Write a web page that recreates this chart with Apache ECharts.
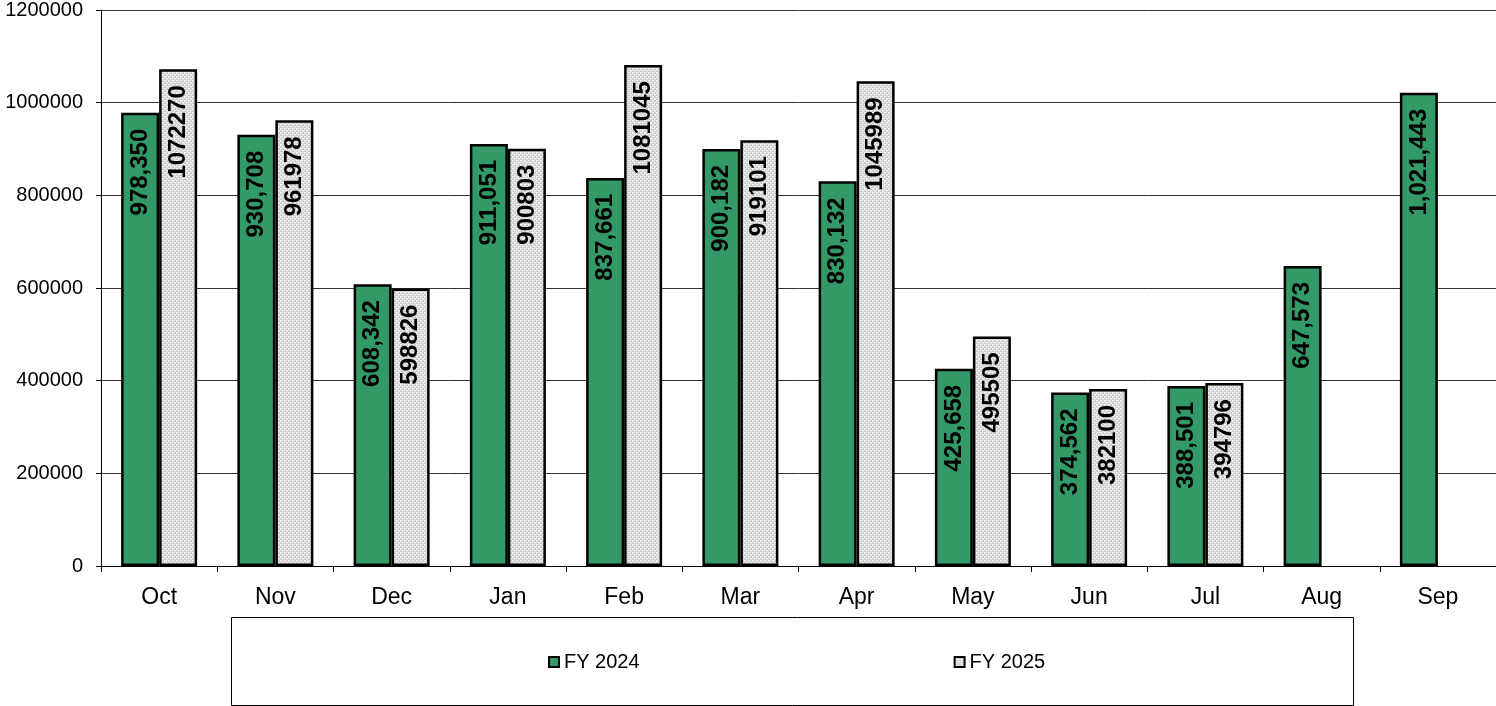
<!DOCTYPE html>
<html>
<head>
<meta charset="utf-8">
<script src="https://cdn.jsdelivr.net/npm/echarts@6/dist/echarts.min.js"></script>
<style>
html,body{margin:0;padding:0;background:#fff;}
#chart{width:1496px;height:706px;}
</style>
</head>
<body>
<div id="chart"></div>
<script>
var categories = ['Oct','Nov','Dec','Jan','Feb','Mar','Apr','May','Jun','Jul','Aug','Sep'];
var fy2024 = [978350, 930708, 608342, 911051, 837661, 900182, 830132, 425658, 374562, 388501, 647573, 1021443];
var fy2025 = [1072270, 961978, 598826, 900803, 1081045, 919101, 1045989, 495505, 382100, 394796, null, null];
var seriesNames = ['FY 2024', 'FY 2025'];
var yTicks = { min: 0, max: 1200000, interval: 200000 };

var FONT = "'Liberation Sans', Arial, sans-serif";

function makePattern() {
  var c = document.createElement('canvas');
  c.width = 4; c.height = 4;
  var ctx = c.getContext('2d');
  ctx.fillStyle = '#d6d6d6';
  ctx.fillRect(0, 0, 4, 4);
  ctx.fillStyle = '#f4f4f4';
  ctx.fillRect(0, 0, 2, 1);
  ctx.fillRect(2, 2, 2, 1);
  ctx.fillStyle = '#e8e8e8';
  ctx.fillRect(0, 1, 1, 1);
  ctx.fillRect(2, 3, 1, 1);
  ctx.fillStyle = '#bdbdbd';
  ctx.fillRect(3, 1, 1, 1);
  ctx.fillRect(1, 3, 1, 1);
  return c;
}

var labelBase = {
  show: true,
  position: 'insideTop',
  rotate: 90,
  align: 'right',
  verticalAlign: 'middle',
  distance: 16,
  fontFamily: FONT,
  fontWeight: 'bold',
  fontSize: 24,
  color: '#000'
};

var chart = echarts.init(document.getElementById('chart'), null, { renderer: 'canvas' });
chart.setOption({
  animation: false,
  backgroundColor: '#fff',
  grid: { left: 101, right: 0, top: 10, bottom: 140, containLabel: false, outerBoundsMode: 'none' },
  legend: {
    data: seriesNames,
    left: 543,
    top: 647,
    itemGap: 314,
    itemWidth: 10,
    itemHeight: 10,
    icon: 'rect',
    itemStyle: { borderColor: '#000', borderWidth: 2 },
    textStyle: { fontFamily: FONT, fontSize: 20, color: '#000' }
  },
  graphic: [{
    type: 'rect',
    shape: { x: 231.5, y: 617.5, width: 1122, height: 88 },
    style: { fill: 'none', stroke: '#000', lineWidth: 1 },
    silent: true
  }],
  xAxis: {
    type: 'category',
    data: categories,
    boundaryGap: true,
    axisLine: { lineStyle: { color: '#000', width: 1 } },
    axisTick: { show: true, alignWithLabel: false, length: 6, lineStyle: { color: '#000' } },
    axisLabel: { fontFamily: FONT, fontSize: 23, color: '#000', margin: 20 }
  },
  yAxis: {
    type: 'value',
    min: yTicks.min,
    max: yTicks.max,
    interval: yTicks.interval,
    axisLine: { show: true, lineStyle: { color: '#000', width: 1 } },
    axisTick: { show: true, length: 5, lineStyle: { color: '#000' } },
    axisLabel: { fontFamily: FONT, fontSize: 20, color: '#000', margin: 18,
      formatter: function (v) { return String(v); } },
    splitLine: { show: true, lineStyle: { color: '#333', width: 1 } }
  },
  series: [
    {
      name: seriesNames[0],
      type: 'bar',
      data: fy2024,
      barWidth: 38,
      barGap: '0%',
      itemStyle: { color: '#339966', borderColor: '#000', borderWidth: 2.5 },
      label: Object.assign({}, labelBase, {
        formatter: function (p) { return p.value.toLocaleString('en-US'); }
      })
    },
    {
      name: seriesNames[1],
      type: 'bar',
      data: fy2025,
      barWidth: 38,
      barGap: '0%',
      itemStyle: { color: { image: makePattern(), repeat: 'repeat' }, borderColor: '#000', borderWidth: 2.5 },
      label: Object.assign({}, labelBase, {
        formatter: function (p) { return String(p.value); }
      })
    }
  ]
});
</script>
</body>
</html>
